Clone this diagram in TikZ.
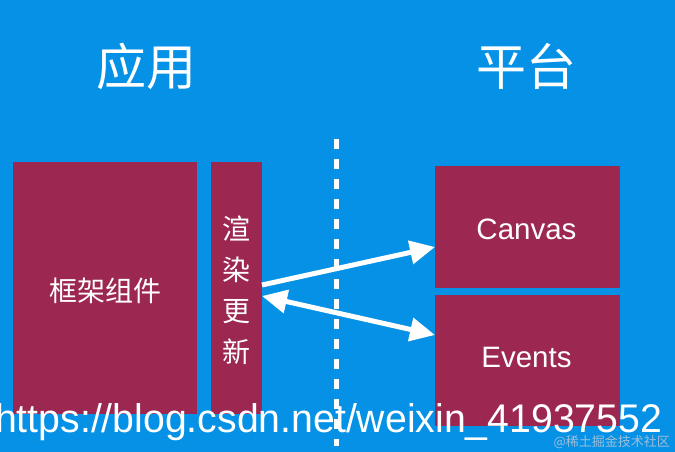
\documentclass[tikz,border=0pt]{standalone}
\usepackage{fontspec}
\setmainfont{Liberation Sans}
\newfontfamily\cjk{Noto Sans CJK SC}
\usetikzlibrary{arrows.meta}
\definecolor{bgblue}{RGB}{4,145,230}
\definecolor{boxred}{RGB}{156,39,80}
\definecolor{wmgray}{RGB}{160,190,215}
\tikzset{
  box/.style={fill=boxred, draw=none, inner sep=0pt},
  boxtext/.style={text=white},
  flow/.style={draw=white, line width=5pt},
  wtip/.tip={Triangle[length=25pt,width=23pt]}
}
\begin{document}
\begin{tikzpicture}[x=1pt,y=-1pt]
\fill[bgblue] (0,0) rectangle (675,452);
\useasboundingbox (0,0) rectangle (675,452);
% titles
\node[text=white, font=\cjk\fontsize{50}{50}\selectfont] (tapp) at (146,66) {应用};
\node[text=white, font=\cjk\fontsize{50}{50}\selectfont] (tplat) at (526,66) {平台};
% boxes
\node[box, minimum width=184pt, minimum height=252pt] (frame) at (105,288) {};
\node[boxtext, font=\cjk\fontsize{28}{28}\selectfont] (frametext) at (105,291) {框架组件};
\node[box, minimum width=51pt, minimum height=252pt] (render) at (236.5,288) {};
\node[boxtext, font=\cjk\fontsize{28}{41}\selectfont, align=center] (rendertext) at (236.5,290) {渲\\染\\更\\新};
\node[box, minimum width=185pt, minimum height=122pt] (canvas) at (527.5,227) {};
\node[boxtext, font=\fontsize{29.5}{29.5}\selectfont] (canvastext) at (526.5,229) {Canvas};
\node[box, minimum width=185pt, minimum height=131pt] (events) at (527.5,360.5) {};
\node[boxtext, font=\fontsize{29.5}{29.5}\selectfont] (eventstext) at (526.5,357) {Events};
% dashed divider
\coordinate (dtop) at (336,139);
\coordinate (dbot) at (336,446);
\draw[white, line width=5pt, dash pattern=on 10pt off 10pt] (dtop) -- (dbot);
% arrows
\coordinate (a1s) at (262,285);
\coordinate (a1e) at (435,247);
\coordinate (a2s) at (262,296);
\coordinate (a2e) at (435,335);
\draw[flow, -{wtip}] (a1s) -- (a1e);
\draw[flow, {wtip}-{wtip}] (a2s) -- (a2e);
% watermarks
\node[text=white, anchor=base west, inner sep=0pt, font=\fontsize{40}{40}\selectfont] (url) at (-5,432) {\scalebox{0.98}[1]{https://blog.csdn.net/weixin\_41937552}};
\node[text=wmgray, anchor=base east, inner sep=0pt, font=\cjk\fontsize{13}{13}\selectfont] (wm) at (670,446) {@稀土掘金技术社区};
\end{tikzpicture}
\end{document}
